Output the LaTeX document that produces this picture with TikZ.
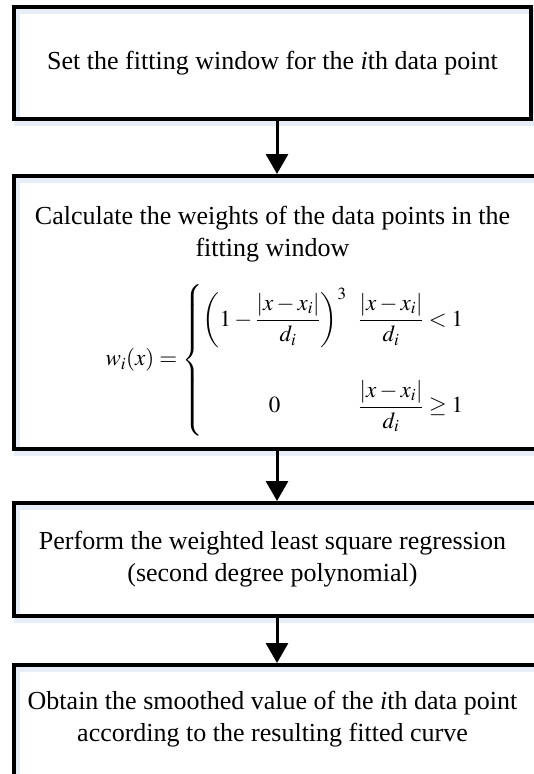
\documentclass[tikz,border=0pt]{standalone}
\usepackage{mathptmx}
\usepackage{amsmath}
\usepackage{fontspec}
\setmainfont{Liberation Serif}
\usetikzlibrary{arrows.meta,shadows}
\definecolor{shadowc}{RGB}{232,238,247}
\begin{document}
\begin{tikzpicture}[x=1pt,y=-1pt,
  box/.style={draw=black, line width=4pt, inner sep=0pt,
    general shadow={shadow xshift=3pt, shadow yshift=-4pt, draw=shadowc, line width=6pt}},
  txt/.style={align=center, inner sep=0pt, font=\fontsize{26}{32}\selectfont},
  arr/.style={line width=3pt, -{Triangle[width=22pt,length=20pt]}}]
\useasboundingbox (0,0) rectangle (533,774);
% boxes
\node[box, minimum width=517pt, minimum height=112pt] (b1) at (272.5,63) {};
\node[box, minimum width=526pt, minimum height=273pt] (b2) at (277,312.5) {};
\node[box, minimum width=526pt, minimum height=113pt] (b3) at (277,559.5) {};
\node[box, minimum width=526pt, minimum height=114pt] (b4) at (277,722) {};
% texts
\node[txt] (t1) at (272.5,63) {Set the fitting window for the \textit{i}th data point};
\node[txt] (t2) at (272.5,234) {Calculate the weights of the data points in the\\fitting window};
\node[inner sep=0pt, font=\fontsize{23}{27}\selectfont] (f2) at (285,360)
 {$\displaystyle w_i(x)=\left\{\begin{array}{@{}c@{\hspace{12pt}}l@{}}
 \left(1-\dfrac{|x-x_i|}{d_i}\right)^{3} & \dfrac{|x-x_i|}{d_i}<1\\[46pt]
 0 & \dfrac{|x-x_i|}{d_i}\geq 1
 \end{array}\right.$};
\node[txt] (t3) at (272.5,559.5) {Perform the weighted least square regression\\(second degree polynomial)};
\node[txt] (t4) at (272.5,719) {Obtain the smoothed value of the \textit{i}th data point\\according to the resulting fitted curve};
% arrows
\draw[arr] (b2.north |- b1.south) -- (b2.north);
\draw[arr] (b2.south) -- (b3.north);
\draw[arr] (b3.south) -- (b4.north);
\end{tikzpicture}
\end{document}
